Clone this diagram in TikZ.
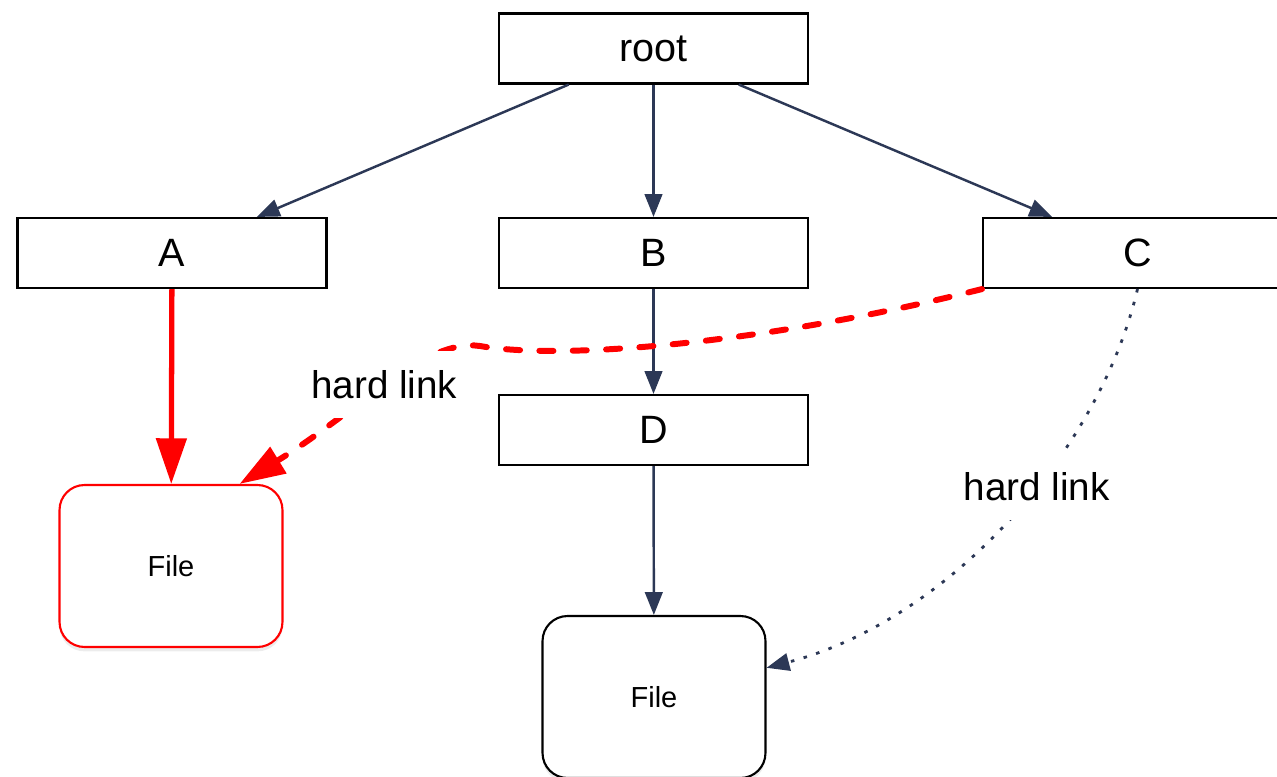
\documentclass[tikz,border=0pt]{standalone}
\usepackage{fontspec}
\setmainfont{Liberation Sans}
\usetikzlibrary{arrows.meta,shadows}
\definecolor{linknavy}{RGB}{44,56,86}

\begin{document}
\begin{tikzpicture}[x=0.02cm,y=-0.02cm,
  dirbox/.style={draw,line width=1.2pt,minimum width=6.18cm,minimum height=1.4cm,
    inner sep=0pt,fill=white,font=\fontsize{22.5}{26}\selectfont},
  filebox/.style={draw,line width=1.2pt,rounded corners=0.5cm,minimum width=4.46cm,
    minimum height=3.24cm,fill=white,font=\fontsize{16.5}{20}\selectfont,
    drop shadow={shadow xshift=0pt,shadow yshift=-2.5pt,opacity=0.15}},
  tree/.style={draw=linknavy,line width=1.4pt,-{Triangle[length=13pt,width=10pt]}},
  linklabel/.style={fill=white,text=black,inner xsep=4pt,inner ysep=11pt,
    font=\fontsize{22}{26}\selectfont}]
\useasboundingbox (0,0) rectangle (1277,777);

% directories
\node[dirbox] (root) at (653.5,48.5) {root};
\node[dirbox] (A) at (172,253) {A};
\node[dirbox] (B) at (653.5,253) {B};
\node[dirbox] (C) at (1137.5,253) {C};
\node[dirbox] (D) at (653.5,430) {D};

% files
\node[filebox,draw=red] (fileA) at (171,566) {File};
\node[filebox] (fileB) at (654,697) {File};

% tree edges
\draw[tree] (root) -- (A);
\draw[tree] (root) -- (B);
\draw[tree] (root) -- (C);
\draw[tree] (B) -- (D);
\draw[tree] (D) -- (fileB);

% links
\draw[red,line width=3pt,-{Triangle[length=26pt,width=17pt]}] (A) -- (fileA);
\draw[red,line width=3.4pt,line cap=round,dash pattern=on 8pt off 11pt,
  -{Triangle[length=26pt,width=17pt]}]
  (C.south west) .. controls (760,345) and (560,360) .. (480,346)
  .. controls (425,338) and (360,410) .. ([xshift=39pt]fileA.north)
  node[linklabel,pos=0.5] (lblA) {hard link};
\draw[linknavy,line width=1.6pt,dash pattern=on 2pt off 5.5pt,
  -{Triangle[length=13pt,width=10pt]}]
  (C.south) .. controls (1100,450) and (950,620) .. (fileB)
  node[linklabel,pos=0.42] (lblC) {hard link};
\end{tikzpicture}
\end{document}
